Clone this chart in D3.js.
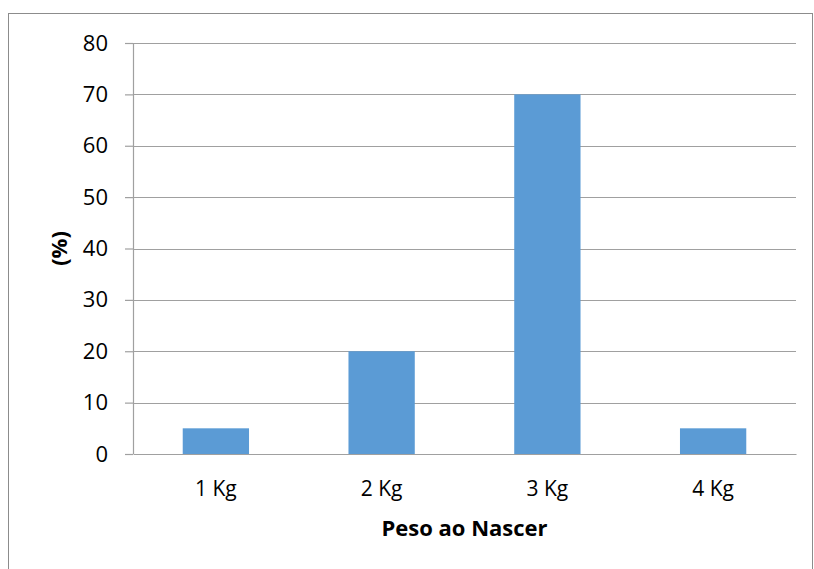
<!DOCTYPE html>
<html>
<head>
<meta charset="utf-8">
<script src="https://cdn.jsdelivr.net/npm/d3@7"></script>
<style>
  html, body { margin: 0; padding: 0; background: #fff; }
  svg { display: block; }
  text { font-family: "Open Sans", sans-serif; fill: #000; }
</style>
</head>
<body>
<svg id="chart" width="814" height="569"></svg>
<script>
// Birth weight distribution (%)
const categories = ["1 Kg", "2 Kg", "3 Kg", "4 Kg"];
const percentages = [5, 20, 70, 5];
const yTicks = [0, 10, 20, 30, 40, 50, 60, 70, 80];
const xTitle = "Peso ao Nascer";
const yTitle = "(%)";

const svg = d3.select("#chart");
const margin = { left: 133, right: 18, top: 43, bottom: 115 };
const W = 814, H = 569;
const plotW = W - margin.left - margin.right;
const plotH = H - margin.top - margin.bottom;

// Outer chart frame
svg.append("rect")
  .attr("x", 8.5).attr("y", 13.5)
  .attr("width", 804).attr("height", 570)
  .attr("fill", "none").attr("stroke", "#8c8c8c").attr("stroke-width", 1);

const g = svg.append("g").attr("transform", `translate(${margin.left},${margin.top})`);

const x = d3.scaleBand().domain(categories).range([0, plotW]).paddingInner(0.6).paddingOuter(0.3);
const y = d3.scaleLinear().domain([0, 80]).range([plotH, 0]);

// Horizontal gridlines
g.append("g").selectAll("line").data(yTicks.filter(d => d > 0)).join("line")
  .attr("x1", 0).attr("x2", plotW)
  .attr("y1", d => Math.round(y(d)) + 0.5).attr("y2", d => Math.round(y(d)) + 0.5)
  .attr("stroke", "#a0a0a0").attr("stroke-width", 1.2);

// Bars
g.append("g").selectAll("rect").data(percentages).join("rect")
  .attr("x", (d, i) => x(categories[i]))
  .attr("y", d => y(d))
  .attr("width", x.bandwidth())
  .attr("height", d => y(0) - y(d))
  .attr("fill", "#5b9bd5");

// Y axis
const yAxis = g.append("g")
  .call(d3.axisLeft(y).tickValues(yTicks).tickSize(8).tickPadding(17).tickFormat(d3.format("d")));
yAxis.select(".domain").attr("stroke", "#a0a0a0").attr("stroke-width", 1.2).attr("d", `M0.5,${plotH}V0`);
yAxis.selectAll(".tick line").attr("stroke", "#a0a0a0").attr("stroke-width", 1.2);
yAxis.selectAll(".tick text").style("font-size", "22px").attr("fill", "#000");

// X axis
const xAxis = g.append("g").attr("transform", `translate(0,${plotH})`)
  .call(d3.axisBottom(x).tickSize(0).tickPadding(27));
xAxis.select(".domain").attr("stroke", "#a0a0a0").attr("stroke-width", 1.2);
xAxis.selectAll(".tick text").style("font-size", "21px").attr("fill", "#000");

// Axis titles
svg.append("text")
  .attr("x", margin.left + plotW / 2).attr("y", 536)
  .attr("text-anchor", "middle")
  .style("font-size", "22px").style("font-weight", "bold")
  .text(xTitle);

svg.append("text")
  .attr("transform", `translate(67,${margin.top + plotH / 2}) rotate(-90)`)
  .attr("text-anchor", "middle")
  .style("font-size", "22px").style("font-weight", "bold")
  .text(yTitle);
</script>
</body>
</html>
